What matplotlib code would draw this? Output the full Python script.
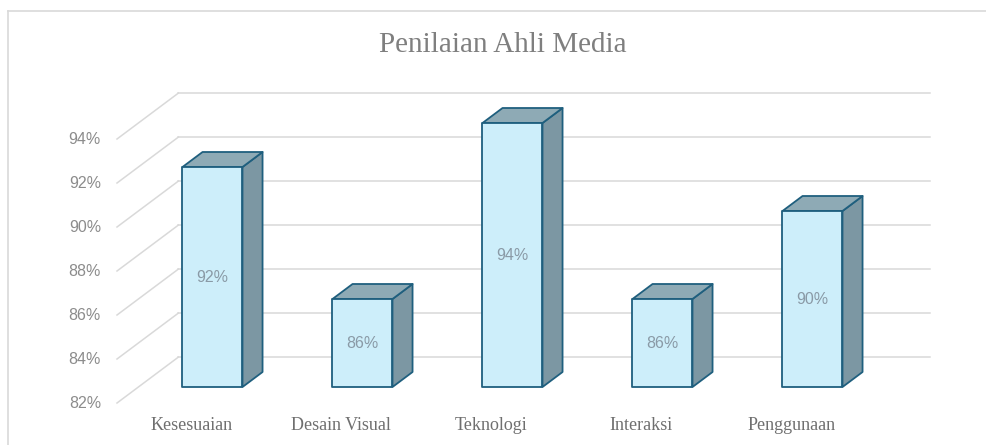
import matplotlib.pyplot as plt
from matplotlib.patches import Polygon
from matplotlib.lines import Line2D

categories = ["Kesesuaian", "Desain Visual", "Teknologi", "Interaksi", "Penggunaan"]
values = [92, 86, 94, 86, 90]
ticks = [82, 84, 86, 88, 90, 92, 94]
base = 82

# fake 3d: depth vector for full floor depth, in data units (category, percent)
DEPTH = (61.5 / 150, 46 / 22)
BAR_T0, BAR_T1 = 0.348, 0.674
HALF_W = 0.2
WALL_L, WALL_R = -0.494, 4.783

FRONT = "#cdeefa"
TOP = "#8eaab5"
SIDE = "#7c97a3"
EDGE = "#1f5f7e"
GRID = "#d9d9d9"


def shift(x, y, t):
    return x + (t - BAR_T0) * DEPTH[0], y + (t - BAR_T0) * DEPTH[1]


fig = plt.figure(figsize=(9.87, 4.45), dpi=100)
ax = fig.add_axes([0, 0, 1, 1])
ax.set_xlim(-212.5 / 150, (987 - 212.5) / 150)
ax.set_ylim(82 - (445 - 387) / 22, 82 + 387 / 22)
ax.axis("off")

# outer chart border (only top and left visible in crop)
bx0, by0 = 8 / 987, 1 - 11 / 445
fig.add_artist(Line2D([bx0, 1], [by0, by0], transform=fig.transFigure,
                      color=GRID, lw=1.2))
fig.add_artist(Line2D([bx0, bx0], [0, by0], transform=fig.transFigure,
                      color=GRID, lw=1.2))

# walls / gridlines
for t in ticks:
    fx, fy = shift(WALL_L, t, 0)
    bx, by = shift(WALL_L, t, 1)
    ax.plot([fx, bx], [fy, by], color=GRID, lw=1.1, zorder=1)
    ax.plot([bx, WALL_R], [by, by], color=GRID, lw=1.1, zorder=1)
    ax.text(fx - 16 / 150, fy, f"{t}%", ha="right", va="center",
            family="Liberation Sans", fontsize=11.5, color="#8c8c8c")

# bars
for i, v in enumerate(values):
    x0, x1 = i - HALF_W, i + HALF_W
    front = [(x0, base), (x1, base), (x1, v), (x0, v)]
    top = [(x0, v), (x1, v), shift(x1, v, BAR_T1), shift(x0, v, BAR_T1)]
    side = [(x1, base), shift(x1, base, BAR_T1), shift(x1, v, BAR_T1), (x1, v)]
    for pts, col in [(side, SIDE), (top, TOP), (front, FRONT)]:
        ax.add_patch(Polygon(pts, closed=True, fc=col, ec=EDGE, lw=1.3,
                             joinstyle="round", zorder=3))
    ax.text(i, (base + v) / 2, f"{v}%", ha="center", va="center",
            family="Liberation Sans", fontsize=11.5, color="#8a9aa6", zorder=4)

# category labels at the front edge of the floor
for i, c in enumerate(categories):
    ax.text(i - BAR_T0 * DEPTH[0], 82 - (425 - 387) / 22, c, ha="center",
            va="center", family="Liberation Serif", fontsize=13,
            color="#6f6f6f")

fig.text(503 / 987, 1 - 45 / 445, "Penilaian Ahli Media", ha="center",
         va="center", family="Liberation Serif", fontsize=21, color="#7f7f7f")

fig.savefig("out.png", dpi=100)
